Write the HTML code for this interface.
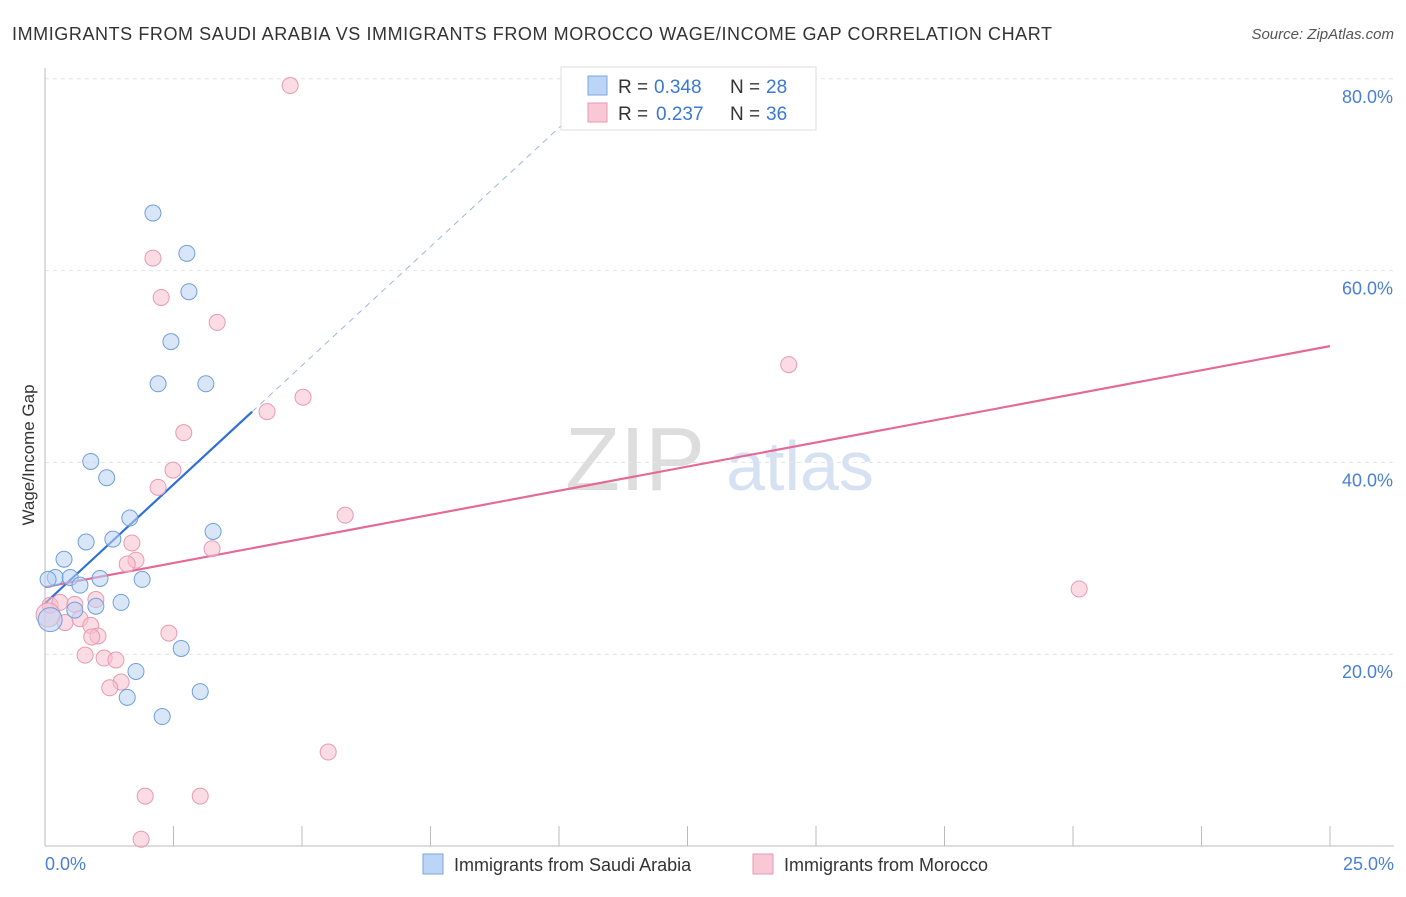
<!DOCTYPE html>
<html><head><meta charset="utf-8"><style>
body{margin:0;background:#fff;font-family:"Liberation Sans",sans-serif;}
svg text{font-family:"Liberation Sans",sans-serif;}
</style></head><body>
<svg id="chart" width="1406" height="892" xmlns="http://www.w3.org/2000/svg">
<text x="12" y="40" font-size="18" fill="#333" textLength="1040">IMMIGRANTS FROM SAUDI ARABIA VS IMMIGRANTS FROM MOROCCO WAGE/INCOME GAP CORRELATION CHART</text>
<text x="1394" y="39" font-size="15" fill="#555" text-anchor="end" font-style="italic">Source: ZipAtlas.com</text>
<text x="635" y="490" font-size="90" fill="#ddd" font-family="Liberation Serif" text-anchor="middle">ZIP</text>
<text x="800" y="490" font-size="70" fill="#d6e2f3" text-anchor="middle">atlas</text>
<g id="grid"></g><g id="axes"></g><g id="lines"></g><g id="points"></g>
<text x="34" y="455" font-size="17" fill="#333" text-anchor="middle" transform="rotate(-90 34 455)">Wage/Income Gap</text>
<text x="45" y="870" font-size="18" fill="#4a7fd4">0.0%</text>
<text x="1394" y="870" font-size="18" fill="#4a7fd4" text-anchor="end">25.0%</text>
<g>
<rect x="561" y="67" width="255" height="63" fill="#fff" stroke="#ddd"/>
<rect x="588" y="76" width="19" height="19" fill="#bcd4f5" stroke="#7aa6e0"/>
<text x="618" y="93" font-size="19" fill="#333">R =</text>
<text x="654" y="93" font-size="19" fill="#3a78d4">0.348</text>
<text x="730" y="93" font-size="19" fill="#333">N =</text>
<text x="766" y="93" font-size="19" fill="#3a78d4">28</text>
<rect x="588" y="103" width="19" height="19" fill="#f9c8d6" stroke="#e89ab2"/>
<text x="618" y="120" font-size="19" fill="#333">R =</text>
<text x="656" y="120" font-size="19" fill="#3a78d4">0.237</text>
<text x="730" y="120" font-size="19" fill="#333">N =</text>
<text x="766" y="120" font-size="19" fill="#3a78d4">36</text>
</g>
<g>
<rect x="423" y="854" width="20" height="20" fill="#bcd4f5" stroke="#7aa6e0"/>
<text x="454" y="871" font-size="18" fill="#333">Immigrants from Saudi Arabia</text>
<rect x="753" y="854" width="20" height="20" fill="#f9c8d6" stroke="#e89ab2"/>
<text x="784" y="871" font-size="18" fill="#333">Immigrants from Morocco</text>
</g>
</svg>
<script>
const yTicks=[20,40,60,80];
const xTickCount=10;
const blueX=[2.1,2.76,2.8,2.45,2.2,3.13,0.89,1.2,1.65,0.8,1.32,3.27,0.37,0.2,0.49,0.68,1.07,1.89,0.99,1.48,0.58,2.65,1.77,3.02,1.6,2.28,0.06,0.1];
const blueY=[66,61.8,57.8,52.6,48.2,48.2,40.1,38.4,34.2,31.7,32,32.8,29.9,28,28,27.2,27.9,27.8,25,25.4,24.6,20.6,18.2,16.1,15.5,13.5,27.8,23.6];
const pinkX=[4.77,2.1,2.26,3.35,14.47,5.02,4.32,2.7,2.49,2.2,5.84,3.25,1.69,1.77,1.6,20.12,0.1,0.29,0.58,0.99,0.68,0.39,0.89,1.03,0.91,2.41,0.78,1.15,1.38,1.48,1.26,5.51,1.95,3.02,1.87,0.06];
const pinkY=[79.3,61.3,57.2,54.6,50.2,46.8,45.3,43.1,39.2,37.4,34.5,31,31.6,29.8,29.4,26.8,25.1,25.4,25.2,25.7,23.7,23.3,23,21.9,21.8,22.2,19.9,19.6,19.4,17.1,16.5,9.8,5.2,5.2,0.7,24.1];
const blueTrend=[25.3,4.96];
const blueSolidEnd=4.03, blueDashEnd=10.4;
const pinkTrend=[27.0,1.005];
const X=v=>45+v*51.4, Y=v=>846-v*9.59;
const ns='http://www.w3.org/2000/svg';
function mk(t,a,p){const e=document.createElementNS(ns,t);for(const k in a)e.setAttribute(k,a[k]);document.getElementById(p).appendChild(e);return e;}
yTicks.forEach(t=>{const l=mk('line',{x1:45,x2:1394,y1:Y(t),y2:Y(t),stroke:'#e4e4e4','stroke-dasharray':'4,4'},'grid');


const tx=mk('text',{x:1393,y:Y(t)+24,'font-size':18,fill:'#4a7fd4','text-anchor':'end'},'grid');tx.textContent=t.toFixed(1)+'%';

});
const ax=mk('line',{x1:45,x2:45,y1:68,y2:846,stroke:'#bbb'},'axes');


const bx=mk('line',{x1:45,x2:1394,y1:846,y2:846,stroke:'#bbb'},'axes');


for(let i=0;i<=xTickCount;i++){const t=mk('line',{x1:X(i*2.5),x2:X(i*2.5),y1:826,y2:846,stroke:'#bbb'},'axes');

}
function tl(tr,x0,x1,col,dash,name){const l=mk('line',{x1:X(x0),y1:Y(tr[0]+tr[1]*x0),x2:X(x1),y2:Y(tr[0]+tr[1]*x1),stroke:col,'stroke-width':dash?1:2.2},'lines');if(dash)l.setAttribute('stroke-dasharray','6,5');

}
tl(blueTrend,blueSolidEnd,blueDashEnd,'#9bb8e0',true,'blue-trend-dashed');
tl(blueTrend,0,blueSolidEnd,'#2f6fd6',false,'blue-trend-line');
tl(pinkTrend,0,25,'#e46a95',false,'pink-trend-line');
function pts(xs,ys,f,s,name){xs.forEach((x,i)=>{const big=(i===xs.length-1);const c=mk('circle',{cx:X(x),cy:Y(ys[i]),r:big?12:8,fill:f,'fill-opacity':0.55,stroke:s,'stroke-width':1},'points');

});}
pts(pinkX,pinkY,'#f7bfd0','#e89ab2','point-morocco');
pts(blueX,blueY,'#b9d2f3','#6f9fdd','point-saudi-arabia');
</script>
</body></html>
